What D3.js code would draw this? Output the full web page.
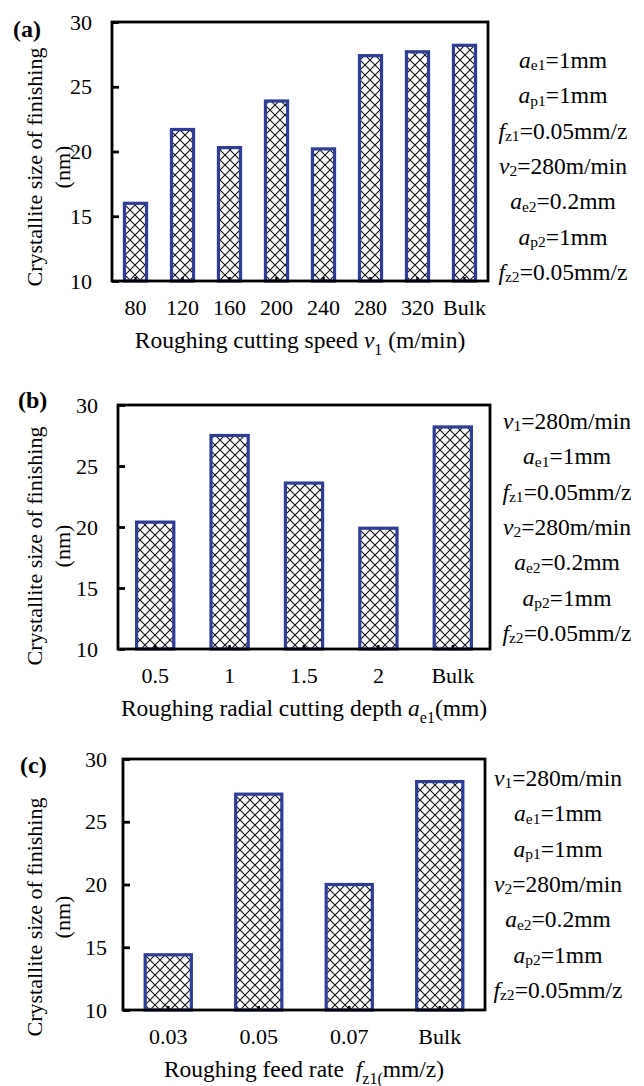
<!DOCTYPE html>
<html>
<head>
<meta charset="utf-8">
<script src="https://cdn.jsdelivr.net/npm/d3@7"></script>
<style>
  body { margin: 0; background: #fff; }
  svg { display: block; background: #fff; }
  text { font-family: "Liberation Serif", "Times New Roman", serif; fill: #000; white-space: pre; }
</style>
</head>
<body>
<svg id="fig" width="644" height="1086"></svg>
<script>
// ---- data ----
const yTicks = [10, 15, 20, 25, 30];

const speedCats = ["80", "120", "160", "200", "240", "280", "320", "Bulk"];
const speedVals = [16.0, 21.7, 20.3, 23.9, 20.2, 27.4, 27.7, 28.2];

const depthCats = ["0.5", "1", "1.5", "2", "Bulk"];
const depthVals = [20.4, 27.5, 23.6, 19.9, 28.2];

const feedCats = ["0.03", "0.05", "0.07", "Bulk"];
const feedVals = [14.4, 27.2, 20.0, 28.2];

// machining conditions: [variable, subscript, value]
const speedConds = [["a", "e1", "=1mm"], ["a", "p1", "=1mm"], ["f", "z1", "=0.05mm/z"],
  ["v", "2", "=280m/min"], ["a", "e2", "=0.2mm"], ["a", "p2", "=1mm"], ["f", "z2", "=0.05mm/z"]];
const depthConds = [["v", "1", "=280m/min"], ["a", "e1", "=1mm"], ["f", "z1", "=0.05mm/z"],
  ["v", "2", "=280m/min"], ["a", "e2", "=0.2mm"], ["a", "p2", "=1mm"], ["f", "z2", "=0.05mm/z"]];
const feedConds = [["v", "1", "=280m/min"], ["a", "e1", "=1mm"], ["a", "p1", "=1mm"],
  ["v", "2", "=280m/min"], ["a", "e2", "=0.2mm"], ["a", "p2", "=1mm"], ["f", "z2", "=0.05mm/z"]];

// axis titles as styled runs: "" plain, "i" italic, "sub" subscript
const speedTitle = [["Roughing cutting speed ", ""], ["v", "i"], ["1", "sub"], [" (m/min)", ""]];
const depthTitle = [["Roughing radial cutting depth ", ""], ["a", "i"], ["e1", "sub"], ["(mm)", ""]];
const feedTitle = [["Roughing feed rate  ", ""], ["f", "i"], ["z1(", "sub"], ["mm/z)", ""]];

const yLabelLines = ["Crystallite size of finishing", "(nm)"];

// ---- layout ----
const panels = [
  { tag: "(a)", cats: speedCats, vals: speedVals, conds: speedConds, title: speedTitle,
    left: 112, right: 488, top: 22, bottom: 281, pad: 0.53, tickPad: 20,
    tagX: 13, tagY: 37, condX: 563, condY: 60, labelY: 167 },
  { tag: "(b)", cats: depthCats, vals: depthVals, conds: depthConds, title: depthTitle,
    left: 118, right: 490, top: 405, bottom: 649, pad: 0.5, tickPad: 20,
    tagX: 18, tagY: 408, condX: 567, condY: 421, labelY: 546 },
  { tag: "(c)", cats: feedCats, vals: feedVals, conds: feedConds, title: feedTitle,
    left: 123, right: 485, top: 759, bottom: 1010, pad: 0.49, tickPad: 16,
    tagX: 20, tagY: 773, condX: 558, condY: 778, labelY: 917 }
];

const BAR_BLUE = "#2E3D97";
const svg = d3.select("#fig");

// cross-hatch fill for the bars
const defs = svg.append("defs");
const HATCH = 10;
const pat = defs.append("pattern")
  .attr("id", "xhatch").attr("patternUnits", "userSpaceOnUse")
  .attr("width", HATCH).attr("height", HATCH);
pat.append("rect").attr("width", HATCH).attr("height", HATCH).attr("fill", "#fff");
pat.append("path").attr("d", `M0,0L${HATCH},${HATCH}M${HATCH},0L0,${HATCH}`)
  .attr("stroke", "#111").attr("stroke-width", 1.1).attr("fill", "none");

// writes styled runs into a text element
function richText(sel, runs, size, shiftFrac, subFrac) {
  const shift = size * shiftFrac;
  let lowered = false;
  runs.forEach(([s, kind]) => {
    const t = sel.append("tspan").text(s);
    if (kind === "i") t.attr("font-style", "italic");
    if (kind === "sub") {
      t.attr("font-size", size * subFrac).attr("dy", lowered ? 0 : shift);
      lowered = true;
    } else if (lowered) {
      t.attr("dy", -shift);
      lowered = false;
    }
  });
}

panels.forEach(p => {
  const g = svg.append("g");
  const x = d3.scaleBand().domain(p.cats).range([p.left, p.right])
    .paddingInner(p.pad).paddingOuter(p.pad / 2);
  const y = d3.scaleLinear().domain([10, 30]).range([p.bottom, p.top]);

  // bars
  g.selectAll("rect.bar").data(p.cats.map((c, i) => ({ c, v: p.vals[i] })))
    .join("rect").attr("class", "bar")
    .attr("x", d => x(d.c)).attr("width", x.bandwidth())
    .attr("y", d => y(d.v)).attr("height", d => y(10) - y(d.v))
    .attr("fill", "url(#xhatch)")
    .attr("stroke", BAR_BLUE).attr("stroke-width", 3.2);

  // frame
  g.append("rect")
    .attr("x", p.left).attr("y", p.top)
    .attr("width", p.right - p.left).attr("height", p.bottom - p.top)
    .attr("fill", "none").attr("stroke", "#000").attr("stroke-width", 2.8);

  // y axis, ticks pointing inward
  const ya = g.append("g").attr("transform", `translate(${p.left},0)`)
    .call(d3.axisLeft(y).tickValues(yTicks).tickSizeInner(-7).tickSizeOuter(0).tickPadding(p.tickPad));
  ya.select(".domain").remove();
  ya.selectAll(".tick line").attr("stroke", "#000").attr("stroke-width", 2.8);
  ya.selectAll(".tick text").attr("font-size", 22)
    .attr("font-family", "Liberation Serif, Times New Roman, serif");

  // x axis, small inward ticks at bar centres
  const xa = g.append("g").attr("transform", `translate(0,${p.bottom})`)
    .call(d3.axisBottom(x).tickSizeInner(-4).tickSizeOuter(0).tickPadding(18));
  xa.select(".domain").remove();
  xa.selectAll(".tick line").attr("stroke", "#000").attr("stroke-width", 2.5);
  xa.selectAll(".tick text").attr("font-size", 22)
    .attr("font-family", "Liberation Serif, Times New Roman, serif");

  // x axis title
  const xt = g.append("text")
    .attr("x", (p.left + p.right) / 2).attr("y", p.bottom + 67)
    .attr("text-anchor", "middle").attr("font-size", 23.5);
  richText(xt, p.title, 23.5, 0.28, 0.68);

  // y axis title, two rotated lines
  [34, 62].forEach((cx, i) => {
    g.append("text")
      .attr("transform", `translate(${cx},${p.labelY}) rotate(-90)`)
      .attr("text-anchor", "middle").attr("dy", "0.35em")
      .attr("font-size", 22)
      .text(yLabelLines[i]);
  });

  // panel tag
  g.append("text").attr("x", p.tagX).attr("y", p.tagY)
    .attr("font-size", 24).attr("font-weight", "bold").text(p.tag);

  // machining conditions at the right
  p.conds.forEach(([v, s, rest], i) => {
    const t = g.append("text")
      .attr("x", p.condX).attr("y", p.condY + i * 35.3 + 8)
      .attr("text-anchor", "middle").attr("font-size", 23.5);
    richText(t, [[v, "i"], [s, "sub"], [rest, ""]], 23.5, 0.1, 0.66);
  });
});
</script>
</body>
</html>
